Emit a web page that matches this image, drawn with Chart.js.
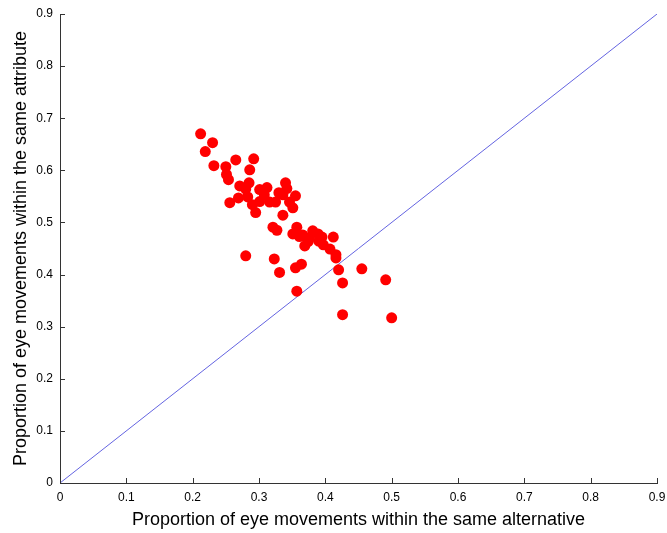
<!DOCTYPE html>
<html>
<head>
<meta charset="utf-8">
<script src="https://cdn.jsdelivr.net/npm/chart.js@4/dist/chart.umd.min.js"></script>
<style>
html,body{margin:0;padding:0;background:#fff;}
#wrap{width:667px;height:533px;position:relative;}
</style>
</head>
<body>
<div id="wrap"><canvas id="c" width="667" height="533"></canvas></div>
<script>
const alternativeX = [0.212,0.219,0.230,0.232,0.250,0.251,0.254,0.265,0.292,0.256,0.269,0.271,0.280,0.285,0.283,0.286,0.290,0.295,0.301,0.301,0.308,0.312,0.316,0.325,0.321,0.327,0.330,0.336,0.336,0.342,0.340,0.346,0.351,0.355,0.351,0.357,0.361,0.366,0.369,0.376,0.381,0.389,0.390,0.395,0.397,0.412,0.407,0.416,0.416,0.420,0.426,0.426,0.455,0.491,0.500,0.323,0.331,0.355,0.364,0.357,0.280,0.374];
const attributeY = [0.670,0.636,0.653,0.609,0.607,0.592,0.582,0.620,0.622,0.538,0.547,0.570,0.564,0.576,0.549,0.601,0.534,0.519,0.563,0.540,0.553,0.567,0.539,0.539,0.491,0.485,0.557,0.553,0.514,0.565,0.576,0.539,0.528,0.551,0.478,0.491,0.473,0.476,0.455,0.470,0.484,0.478,0.464,0.472,0.457,0.472,0.449,0.438,0.432,0.409,0.384,0.323,0.411,0.390,0.317,0.430,0.404,0.413,0.420,0.368,0.436,0.463];
const diagX = [0, 0.9];
const diagY = [0, 0.9];
const tickValues = [0,0.1,0.2,0.3,0.4,0.5,0.6,0.7,0.8,0.9];
const xTitle = 'Proportion of eye movements within the same alternative';
const yTitle = 'Proportion of eye movements within the same attribute';

const pts = alternativeX.map((x,i)=>({x:x, y:attributeY[i]}));
const diag = diagX.map((x,i)=>({x:x, y:diagY[i]}));

const innerTicks = {
  id:'innerTicks',
  afterDatasetsDraw(chart){
    const ctx = chart.ctx;
    const xs = chart.scales.x, ys = chart.scales.y;
    ctx.save();
    ctx.strokeStyle = '#333';
    ctx.lineWidth = 1;
    ctx.beginPath();
    tickValues.forEach(v=>{
      const px = Math.round(xs.getPixelForValue(v))+0.5;
      ctx.moveTo(px, ys.bottom); ctx.lineTo(px, ys.bottom-5);
      const py = Math.round(ys.getPixelForValue(v))+0.5;
      ctx.moveTo(xs.left, py); ctx.lineTo(xs.left+5, py);
    });
    ctx.stroke();
    ctx.restore();
  }
};

new Chart(document.getElementById('c'), {
  type:'scatter',
  data:{datasets:[
    {data:pts, backgroundColor:'#ff0000', borderWidth:0, pointRadius:5.5, pointHoverRadius:5.5},
    {type:'line', data:diag, borderColor:'rgb(100,100,225)', borderWidth:1, pointRadius:0, fill:false, tension:0}
  ]},
  options:{
    responsive:false, animation:false,
    layout:{padding:{top:14,right:10,left:0,bottom:0}},
    plugins:{legend:{display:false}, tooltip:{enabled:false}},
    scales:{
      x:{type:'linear', min:0, max:0.9,
        afterBuildTicks(s){ s.ticks = tickValues.map(v=>({value:v})); },
        afterFit(s){ s.height = 50; s.paddingRight = 0; s.paddingLeft = 0; },
        grid:{display:false, drawTicks:false},
        border:{display:true, color:'#333', width:1},
        ticks:{color:'#000', padding:7, font:{family:'Liberation Sans', size:12}, callback:v=>String(v)},
        title:{display:true, text:xTitle, color:'#000', font:{family:'Liberation Sans', size:18}, padding:{top:0,bottom:2}}
      },
      y:{type:'linear', min:0, max:0.9,
        afterBuildTicks(s){ s.ticks = tickValues.map(v=>({value:v})); },
        afterFit(s){ s.width = 60; s.paddingTop = 0; s.paddingBottom = 0; },
        grid:{display:false, drawTicks:false},
        border:{display:true, color:'#333', width:1},
        ticks:{color:'#000', padding:7, font:{family:'Liberation Sans', size:12}, callback:v=>String(v)},
        title:{display:true, text:yTitle, color:'#000', font:{family:'Liberation Sans', size:18}, padding:{top:10,bottom:0}}
      }
    }
  },
  plugins:[innerTicks]
});
</script>
</body>
</html>
